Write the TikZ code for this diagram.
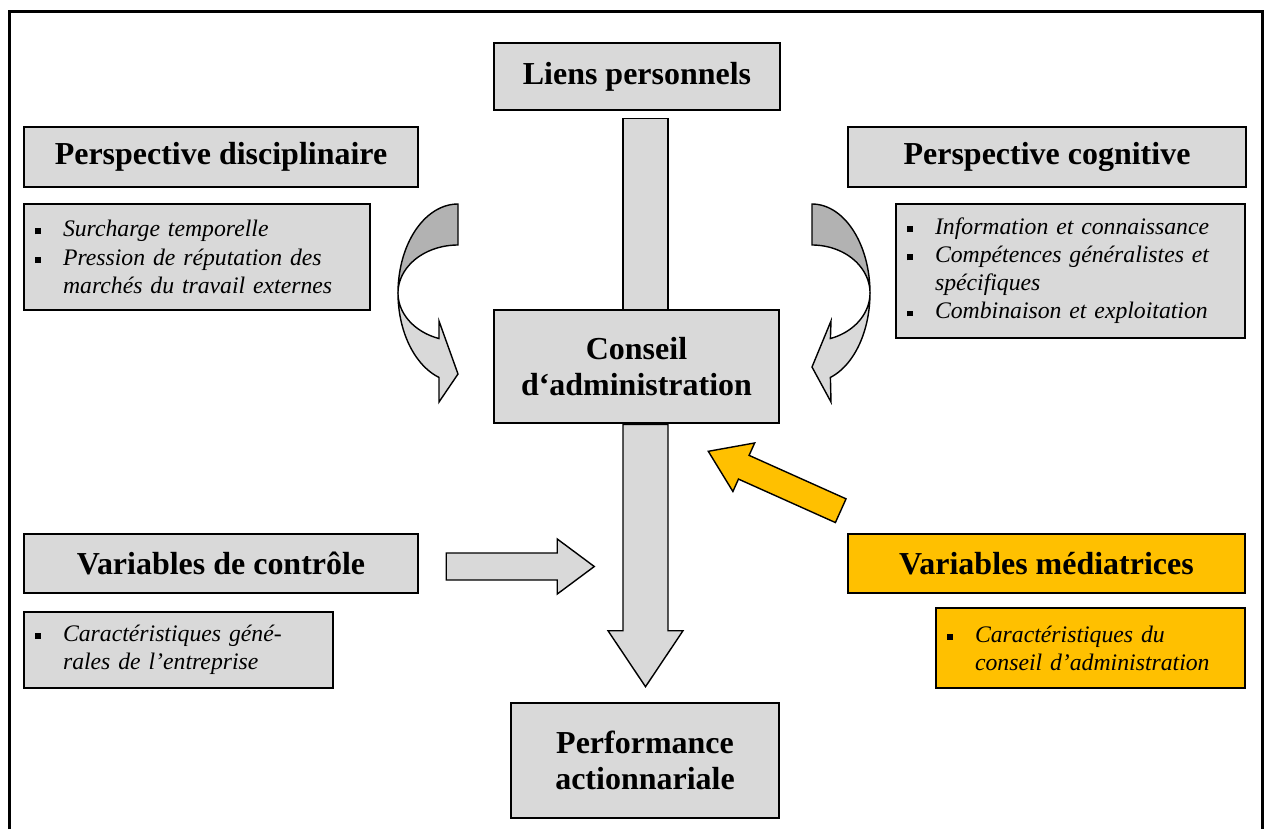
\documentclass[tikz,border=0pt]{standalone}
\usepackage{fontspec}
\setmainfont{Liberation Serif}
\usetikzlibrary{backgrounds,calc}
\definecolor{boxgray}{RGB}{217,217,217}
\definecolor{backgray}{RGB}{178,178,178}
\definecolor{amber}{RGB}{255,192,0}
% square bullet followed by its text column; \contind indents a wrapped line
\newcommand{\sqbul}{\makebox[0.56cm][l]{\raisebox{0.05cm}{\rule{0.12cm}{0.12cm}}}}
\newcommand{\contind}{\hspace*{0.56cm}}

\begin{document}
\begin{tikzpicture}[x=0.02cm,y=-0.02cm,
  titlebox/.style={draw, line width=1.5pt, fill=boxgray,
    font=\fontsize{18.2}{20.5}\selectfont\bfseries, align=center, inner sep=0pt},
  listbox/.style={draw, line width=0.8pt, fill=boxgray,
    font=\fontsize{13.5}{16}\selectfont\itshape, align=left,
    inner xsep=0.22cm, inner ysep=0pt},
  blockarrow/.style={draw, line width=0.8pt, fill=boxgray, line join=miter},
  curvepart/.style={draw, line width=0.8pt, line join=miter}
]
\useasboundingbox (0,0) rectangle (1264,829);

% outer frame, open at the bottom
\draw[line width=0.06cm] (9.5,829) -- (9.5,11.5) -- (1262.5,11.5) -- (1262.5,829);

% boxes
\node[titlebox, minimum width=5.72cm, minimum height=1.34cm] (liens) at (637,76.5) {Liens personnels};
\node[titlebox, minimum width=7.88cm, minimum height=1.2cm] (disc) at (221,157) {Perspective disciplinaire};
\node[titlebox, minimum width=7.96cm, minimum height=1.2cm] (cogn) at (1047,157) {Perspective cognitive};
\node[listbox, text width=6.48cm, minimum height=2.12cm] (disclist) at (197,257)
  {\sqbul Surcharge temporelle\\
   \sqbul Pression de réputation des\\
   \contind marchés du travail externes};
\node[listbox, text width=6.54cm, minimum height=2.68cm] (cognlist) at (1070.5,271)
  {\sqbul Information et connaissance\\
   \sqbul Compétences généralistes et\\
   \contind spécifiques\\
   \sqbul Combinaison et exploitation};
\node[titlebox, minimum width=5.7cm, minimum height=2.26cm] (conseil) at (636.5,366.5)
  {Conseil\\d‘administration};
\node[titlebox, minimum width=7.88cm, minimum height=1.18cm] (ctrl) at (221,563.5) {Variables de contrôle};
\node[listbox, text width=5.74cm, minimum height=1.52cm] (ctrllist) at (178.5,650)
  {\sqbul Caractéristiques géné-\\
   \contind rales de l’entreprise};
\node[titlebox, fill=amber, minimum width=7.94cm, minimum height=1.18cm] (med) at (1046.5,563.5) {Variables médiatrices};
\node[listbox, fill=amber, text width=5.74cm, minimum height=1.6cm] (medlist) at (1090.5,648)
  {\sqbul Caractéristiques du\\
   \contind conseil d’administration};
\node[titlebox, minimum width=5.36cm, minimum height=2.3cm] (perf) at (645,760.5)
  {Performance\\actionnariale};

\begin{pgfonlayer}{background}
  % bar from the personal ties down behind the board
  \draw[blockarrow] ($(liens.south)+(-14,7)$) rectangle ($(conseil.north)+(31.5,10)$);

  % board -> performance
  \coordinate (dtop) at ($(conseil.south)+(9,0)$);
  \coordinate (dtip) at ($(perf.north)+(0.5,-15)$);
  \draw[blockarrow] ($(dtop)+(-22.5,0)$) -- ($(dtip)+(-22.5,-56)$) -- ($(dtip)+(-37.5,-56)$)
    -- (dtip) -- ($(dtip)+(37.5,-56)$) -- ($(dtip)+(22.5,-56)$) -- ($(dtop)+(22.5,0)$) -- cycle;
\end{pgfonlayer}

% control variables -> main path
\coordinate (ctail) at ($(ctrl.east)+(27,3)$);
\draw[blockarrow] ($(ctail)+(0,-13.5)$) -- ($(ctail)+(111,-13.5)$) -- ($(ctail)+(111,-27.5)$)
  -- ($(ctail)+(148,0)$) -- ($(ctail)+(111,27.5)$) -- ($(ctail)+(111,13.5)$)
  -- ($(ctail)+(0,13.5)$) -- cycle;

% mediating variables -> board
\coordinate (ot) at ($(med.north west)+(-6,-22)$);
\coordinate (op) at ($(conseil.south east)+(-72,27)$);
\coordinate (ob) at ($(op)!0.778cm!(ot)$);
\draw[blockarrow, fill=amber] ($(ot)!0.26cm!90:(op)$) -- ($(ob)!0.26cm!-90:(ot)$)
  -- ($(ob)!0.532cm!-90:(ot)$) -- (op) -- ($(ob)!0.532cm!90:(ot)$)
  -- ($(ob)!0.26cm!90:(ot)$) -- ($(ot)!0.26cm!-90:(op)$) -- cycle;

% curved arrow, left
\path[curvepart, fill=backgray]
  plot[domain=90:180, samples=40] ({458+60*cos(\x)},{293-89*sin(\x)})
  -- plot[domain=180:90, samples=40] ({458+60*cos(\x)},{293-48*sin(\x)}) -- cycle;
\path[curvepart, fill=boxgray]
  plot[domain=180:251.5, samples=40] ({458+60*cos(\x)},{293-89*sin(\x)})
  -- (439,402) -- (458,374) -- (439,321)
  -- plot[domain=251.5:180, samples=40] ({458+60*cos(\x)},{293-48*sin(\x)}) -- cycle;

% curved arrow, right
\path[curvepart, fill=backgray]
  plot[domain=90:180, samples=40] ({812-58*cos(\x)},{293-89*sin(\x)})
  -- plot[domain=180:90, samples=40] ({812-58*cos(\x)},{293-48*sin(\x)}) -- cycle;
\path[curvepart, fill=boxgray]
  plot[domain=180:251.5, samples=40] ({812-58*cos(\x)},{293-89*sin(\x)})
  -- (831,402) -- (812,367) -- (831,321)
  -- plot[domain=251.5:180, samples=40] ({812-58*cos(\x)},{293-48*sin(\x)}) -- cycle;
\end{tikzpicture}
\end{document}
